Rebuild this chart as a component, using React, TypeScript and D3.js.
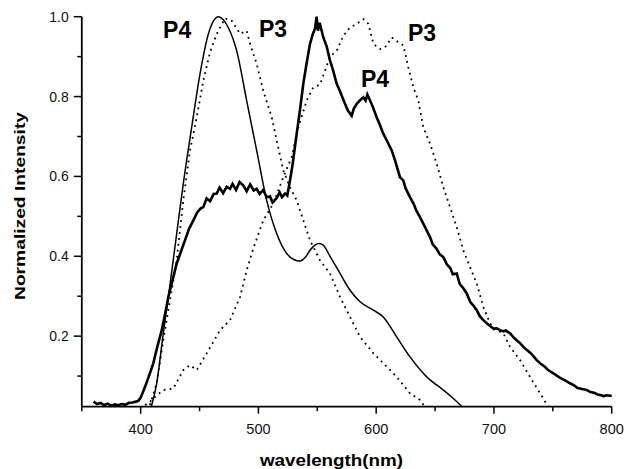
import { useEffect, useRef } from "react";
import * as d3 from "d3";

// P4 absorption (thin solid)
const p4AbsWl = [409, 413.6, 419.2, 423.5, 430.6, 436.2, 443.3, 450.4, 457.5, 462, 466, 470, 474.4, 481.5, 490, 498.5, 507, 515.5, 524, 530, 535.3, 540, 543.8, 548, 551.5, 555, 560.8, 569.3, 577.8, 586.3, 597.6, 606, 617.4, 628.7, 642.9, 657, 665, 673];
const p4AbsVal = [0.023, 0.082, 0.207, 0.298, 0.457, 0.582, 0.723, 0.857, 0.957, 0.99, 1.0, 0.993, 0.973, 0.915, 0.79, 0.665, 0.54, 0.457, 0.407, 0.392, 0.388, 0.398, 0.415, 0.428, 0.432, 0.428, 0.4, 0.357, 0.315, 0.286, 0.265, 0.248, 0.198, 0.148, 0.098, 0.065, 0.045, 0.023];

// P4 emission (thick, noisy)
const p4EmWl = [360, 363, 366, 369, 372, 375, 378, 381, 384, 387, 390, 393, 396, 398, 400, 403.7, 407, 410.7, 414, 417.9, 421, 423.5, 427, 430.6, 434, 437.6, 441, 444.7, 448, 451, 453.2, 456, 459, 462, 464.6, 467, 470, 473, 475.9, 478, 481, 484, 487.2, 490, 493, 496, 498.5, 501, 504, 507, 509.8, 512, 515.5, 518, 520, 522.6, 524.5, 526.8, 529, 532.5, 535, 538.1, 541, 543.8, 546, 548, 549.4, 550.5, 552, 555.1, 558, 560.8, 563, 566.5, 569, 571, 573.5, 576, 579.2, 581, 583.5, 586, 589.1, 591, 592.5, 594.8, 597, 600.4, 603, 606, 609, 613.2, 616, 620.2, 623, 625, 628.7, 632, 634, 637.2, 640, 642, 645.7, 648, 651, 654, 657, 660, 663, 665, 668.4, 671, 674, 676.9, 680, 683, 685.4, 688, 691, 693.9, 697, 700, 702, 705.2, 708, 710, 713.7, 717, 720, 722, 725, 728, 731, 733, 736.3, 740, 743, 746, 750.4, 754, 757, 760, 764.6, 768, 771, 774, 778.8, 782, 785, 788, 790.1, 793, 796, 800];
const p4EmVal = [0.036, 0.03, 0.033, 0.027, 0.031, 0.026, 0.029, 0.027, 0.03, 0.028, 0.033, 0.034, 0.036, 0.038, 0.046, 0.073, 0.1, 0.132, 0.172, 0.215, 0.26, 0.298, 0.34, 0.382, 0.41, 0.44, 0.468, 0.49, 0.51, 0.52, 0.523, 0.545, 0.538, 0.556, 0.557, 0.572, 0.558, 0.574, 0.569, 0.581, 0.566, 0.586, 0.577, 0.563, 0.58, 0.565, 0.569, 0.556, 0.566, 0.548, 0.55, 0.535, 0.546, 0.56, 0.548, 0.557, 0.552, 0.59, 0.63, 0.707, 0.76, 0.832, 0.885, 0.932, 0.955, 0.97, 1.0, 0.965, 0.985, 0.948, 0.925, 0.89, 0.87, 0.832, 0.815, 0.8, 0.782, 0.765, 0.752, 0.77, 0.782, 0.79, 0.798, 0.79, 0.805, 0.79, 0.775, 0.748, 0.73, 0.707, 0.69, 0.665, 0.64, 0.598, 0.59, 0.57, 0.548, 0.53, 0.515, 0.498, 0.482, 0.47, 0.448, 0.43, 0.42, 0.405, 0.398, 0.38, 0.37, 0.355, 0.357, 0.33, 0.32, 0.307, 0.285, 0.275, 0.265, 0.25, 0.24, 0.232, 0.225, 0.218, 0.22, 0.215, 0.212, 0.214, 0.207, 0.196, 0.188, 0.183, 0.173, 0.165, 0.158, 0.152, 0.14, 0.13, 0.124, 0.115, 0.107, 0.1, 0.094, 0.09, 0.082, 0.077, 0.07, 0.068, 0.065, 0.06, 0.058, 0.054, 0.0525, 0.05, 0.052, 0.05];

// P3 absorption (dotted, left)
const p3AbsWl = [407.9, 413.6, 419.2, 424.9, 430.6, 436.2, 441.9, 447.6, 453.2, 458.9, 464.6, 471.6, 477.3, 484.4, 490, 492.9, 498.5, 504.1, 511.3, 515.5, 521.1, 526.8, 532.5, 538.1, 543.8, 552.3, 560.8, 569.3, 577.8, 586.3, 597.6, 606, 617.4, 628.7, 637.2, 641.5];
const p3AbsVal = [0.0275, 0.082, 0.19, 0.29, 0.39, 0.54, 0.665, 0.748, 0.84, 0.911, 0.957, 0.996, 0.99, 0.957, 0.965, 0.932, 0.882, 0.815, 0.748, 0.69, 0.615, 0.573, 0.54, 0.49, 0.44, 0.39, 0.357, 0.298, 0.248, 0.198, 0.157, 0.132, 0.098, 0.057, 0.04, 0.022];

// P3 emission (dotted, right)
const p3EmWl = [403.7, 407.9, 413, 419.2, 427.7, 436.2, 441.9, 447.6, 456.1, 467.4, 475.9, 484.4, 490, 495.7, 504.1, 512.6, 521.1, 528.2, 533.9, 541, 546.6, 552.3, 560.8, 566.5, 572.1, 577.8, 583.5, 589.1, 593.4, 597.6, 603.3, 607.5, 613.2, 618.8, 623.1, 627.3, 631.6, 635.8, 640, 645.7, 651.4, 657, 662.7, 668.4, 674, 679.7, 685.4, 691, 696.7, 702.4, 708, 713.7, 722.2, 730.6, 739.1, 746.2];
const p3EmVal = [0.0275, 0.036, 0.05, 0.065, 0.069, 0.115, 0.1275, 0.115, 0.157, 0.215, 0.24, 0.298, 0.365, 0.42, 0.49, 0.532, 0.598, 0.648, 0.723, 0.79, 0.823, 0.83, 0.9, 0.915, 0.952, 0.973, 0.982, 0.994, 0.982, 0.932, 0.919, 0.923, 0.948, 0.936, 0.928, 0.873, 0.823, 0.79, 0.723, 0.682, 0.632, 0.573, 0.523, 0.473, 0.415, 0.373, 0.332, 0.273, 0.232, 0.215, 0.207, 0.173, 0.14, 0.098, 0.057, 0.023];

const xMajor = [400, 500, 600, 700, 800];
const xMinor = [350, 450, 550, 650, 750];
const yMajor = [0.2, 0.4, 0.6, 0.8, 1.0];
const yMinor = [0.1, 0.3, 0.5, 0.7, 0.9];

const labelText = ["P4", "P3", "P3", "P4"];
const labelWl = [419, 500.5, 627, 587];
const labelVal = [0.947, 0.95, 0.938, 0.825];

export default function App() {
    const svgRef = useRef<SVGSVGElement>(null);

    useEffect(() => {
        const svg = d3.select(svgRef.current);
        svg.selectAll("*").remove();

        const x = d3.scaleLinear().domain([350, 800]).range([81.8, 611.7]);
        const y = d3.scaleLinear().domain([0.0233, 1]).range([406.7, 16.7]);

        const line = d3.line<[number, number]>()
            .x(d => x(d[0]))
            .y(d => y(d[1]));

        const pairs = (wl: number[], v: number[]) => wl.map((w, i) => [w, v[i]] as [number, number]);

        // curves
        svg.append("path")
            .attr("d", line(pairs(p3AbsWl, p3AbsVal)))
            .attr("fill", "none").attr("stroke", "#000")
            .attr("stroke-width", 1.8).attr("stroke-dasharray", "1.8,4.2");
        svg.append("path")
            .attr("d", line(pairs(p3EmWl, p3EmVal)))
            .attr("fill", "none").attr("stroke", "#000")
            .attr("stroke-width", 1.8).attr("stroke-dasharray", "1.8,4.2");
        svg.append("path")
            .attr("d", line.curve(d3.curveMonotoneX)(pairs(p4AbsWl, p4AbsVal)))
            .attr("fill", "none").attr("stroke", "#000")
            .attr("stroke-width", 1.5);
        line.curve(d3.curveLinear);
        svg.append("path")
            .attr("d", line(pairs(p4EmWl, p4EmVal)))
            .attr("fill", "none").attr("stroke", "#000")
            .attr("stroke-width", 2.6).attr("stroke-linejoin", "miter");

        // x axis
        const gx = svg.append("g").attr("transform", "translate(0,406.7)");
        gx.append("line").attr("x1", 81.8).attr("x2", 611.7)
            .attr("stroke", "#000").attr("stroke-width", 1.8);
        gx.selectAll("line.maj").data(xMajor).enter().append("line")
            .attr("x1", d => x(d)).attr("x2", d => x(d))
            .attr("y1", 0).attr("y2", 7)
            .attr("stroke", "#000").attr("stroke-width", 1.5);
        gx.selectAll("line.min").data(xMinor).enter().append("line")
            .attr("x1", d => x(d)).attr("x2", d => x(d))
            .attr("y1", 0).attr("y2", 4.5)
            .attr("stroke", "#000").attr("stroke-width", 1.5);
        gx.selectAll("text").data(xMajor).enter().append("text")
            .attr("x", d => x(d)).attr("y", 27)
            .attr("text-anchor", "middle")
            .attr("font-family", "Liberation Sans, Arial, sans-serif")
            .attr("font-size", 14.5).attr("fill", "#111")
            .text(d => d);

        // y axis
        const gy = svg.append("g").attr("transform", "translate(81.8,0)");
        gy.append("line").attr("y1", 16.7).attr("y2", 406.7)
            .attr("stroke", "#000").attr("stroke-width", 1.8);
        gy.selectAll("line.maj").data(yMajor).enter().append("line")
            .attr("y1", d => y(d)).attr("y2", d => y(d))
            .attr("x1", 0).attr("x2", -8)
            .attr("stroke", "#000").attr("stroke-width", 1.5);
        gy.selectAll("line.min").data(yMinor).enter().append("line")
            .attr("y1", d => y(d)).attr("y2", d => y(d))
            .attr("x1", 0).attr("x2", -4.5)
            .attr("stroke", "#000").attr("stroke-width", 1.5);
        gy.selectAll("text").data(yMajor).enter().append("text")
            .attr("x", -13).attr("y", d => y(d) + 5)
            .attr("text-anchor", "end")
            .attr("font-family", "Liberation Sans, Arial, sans-serif")
            .attr("font-size", 14).attr("fill", "#111")
            .text(d => d.toFixed(1));

        // axis titles
        svg.append("text")
            .attr("x", 260).attr("y", 466)
            .attr("textLength", 143).attr("lengthAdjust", "spacingAndGlyphs")
            .attr("font-family", "Liberation Sans, Arial, sans-serif")
            .attr("font-weight", "bold").attr("font-size", 16)
            .text("wavelength(nm)");
        svg.append("text")
            .attr("transform", "translate(25,300) rotate(-90)")
            .attr("textLength", 188).attr("lengthAdjust", "spacingAndGlyphs")
            .attr("font-family", "Liberation Sans, Arial, sans-serif")
            .attr("font-weight", "bold").attr("font-size", 14.5)
            .text("Normalized Intensity");

        // curve labels
        svg.selectAll("text.lab").data(labelText).enter().append("text")
            .attr("x", (_, i) => x(labelWl[i])).attr("y", (_, i) => y(labelVal[i]))
            .attr("font-family", "Liberation Sans, Arial, sans-serif")
            .attr("font-weight", "bold").attr("font-size", 23)
            .text(d => d);
    }, []);

    return (
        <svg ref={svgRef} width={628} height={469}
            style={{ position: "absolute", left: 0, top: 0, background: "#fff" }} />
    );
}
